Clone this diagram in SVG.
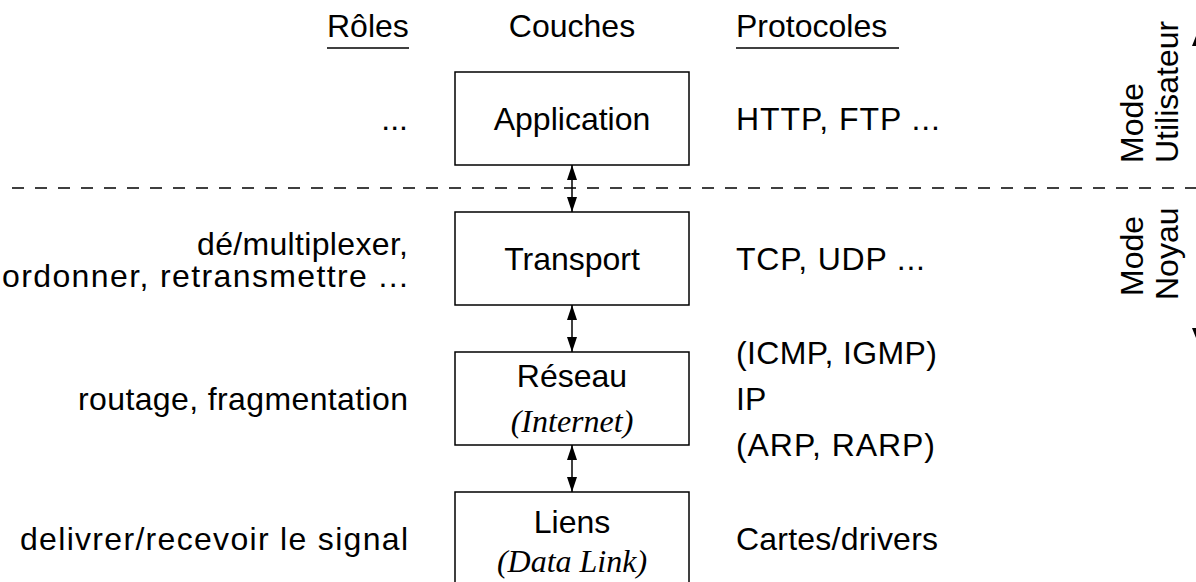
<svg xmlns="http://www.w3.org/2000/svg" width="1196" height="582" viewBox="0 0 1196 582">
  <style>
    .t { font-family: "Liberation Sans", Arial, sans-serif; font-size: 32px; fill: #000; }
    .i { font-family: "Liberation Serif", "Times New Roman", serif; font-size: 32px; font-style: italic; fill: #000; }
    .box { fill: #fff; stroke: #000; stroke-width: 1.5; }
    .link { stroke: #000; stroke-width: 1.5; fill: none; marker-start: url(#head); marker-end: url(#head); }
    .rule { stroke: #000; stroke-width: 1.5; }
    .end { text-anchor: end; }
    .mid { text-anchor: middle; }
  </style>
  <defs>
    <marker id="head" viewBox="0 0 15 10" refX="15" refY="5" markerWidth="15" markerHeight="10" markerUnits="userSpaceOnUse" orient="auto-start-reverse">
      <path d="M0,0 L15,5 L0,10 z" fill="#000"/>
    </marker>
    <marker id="headWide" viewBox="0 0 15 12" refX="15" refY="6" markerWidth="15" markerHeight="12" markerUnits="userSpaceOnUse" orient="auto-start-reverse">
      <path d="M0,0 L15,6 L0,12 z" fill="#000"/>
    </marker>
  </defs>

  <!-- column headings -->
  <g id="headings">
    <text class="t" x="327" y="37">Rôles</text>
    <line class="rule" x1="327" y1="48" x2="409" y2="48"/>
    <text class="t mid" x="572" y="37">Couches</text>
    <text class="t" x="736" y="37">Protocoles</text>
    <line class="rule" x1="736" y1="48" x2="899" y2="48"/>
  </g>

  <!-- user / kernel boundary -->
  <line id="boundary" x1="12" y1="188" x2="1196" y2="188" stroke="#000" stroke-width="1.3" stroke-dasharray="12,11"/>

  <!-- layers -->
  <g id="application">
    <rect class="box" x="455" y="72" width="234" height="93"/>
    <text class="t mid" x="572" y="130">Application</text>
  </g>
  <g id="transport">
    <rect class="box" x="455" y="212" width="234" height="93"/>
    <text class="t mid" x="572" y="270">Transport</text>
  </g>
  <g id="reseau">
    <rect class="box" x="455" y="352" width="234" height="93"/>
    <text class="t mid" x="572" y="387">Réseau</text>
    <text class="i mid" x="572" y="432">(Internet)</text>
  </g>
  <g id="liens">
    <rect class="box" x="455" y="492" width="234" height="93"/>
    <text class="t mid" x="572" y="533">Liens</text>
    <text class="i mid" x="572" y="572">(Data Link)</text>
  </g>

  <!-- connectors between layers -->
  <g id="connectors">
    <line class="link" x1="572" y1="165" x2="572" y2="212"/>
    <line class="link" x1="572" y1="305" x2="572" y2="352"/>
    <line class="link" x1="572" y1="445" x2="572" y2="492"/>
    <line x1="1198" y1="31" x2="1198" y2="343" stroke="#000" stroke-width="1.5" marker-start="url(#headWide)" marker-end="url(#headWide)"/>
  </g>

  <!-- roles -->
  <g id="roles">
    <text class="t end" x="408" y="130">...</text>
    <text class="t end" x="408" y="255" textLength="211" lengthAdjust="spacing">dé/multiplexer,</text>
    <text class="t end" x="408" y="287" textLength="406" lengthAdjust="spacing">ordonner, retransmettre ...</text>
    <text class="t end" x="408" y="410" textLength="330" lengthAdjust="spacing">routage, fragmentation</text>
    <text class="t end" x="408" y="550" textLength="388" lengthAdjust="spacing">delivrer/recevoir le signal</text>
  </g>

  <!-- protocols -->
  <g id="protocols">
    <text class="t" x="736" y="130" textLength="204" lengthAdjust="spacing">HTTP, FTP ...</text>
    <text class="t" x="736" y="270" textLength="189" lengthAdjust="spacing">TCP, UDP ...</text>
    <text class="t" x="736" y="364" textLength="201" lengthAdjust="spacing">(ICMP, IGMP)</text>
    <text class="t" x="736" y="410">IP</text>
    <text class="t" x="736" y="456" textLength="199" lengthAdjust="spacing">(ARP, RARP)</text>
    <text class="t" x="736" y="550" textLength="202" lengthAdjust="spacing">Cartes/drivers</text>
  </g>

  <!-- execution modes -->
  <g id="modes">
    <text class="t" transform="translate(1143,163) rotate(-90)">Mode</text>
    <text class="t" transform="translate(1178,163) rotate(-90)">Utilisateur</text>
    <text class="t" transform="translate(1143,296) rotate(-90)">Mode</text>
    <text class="t" transform="translate(1178,300) rotate(-90)">Noyau</text>
  </g>
</svg>
